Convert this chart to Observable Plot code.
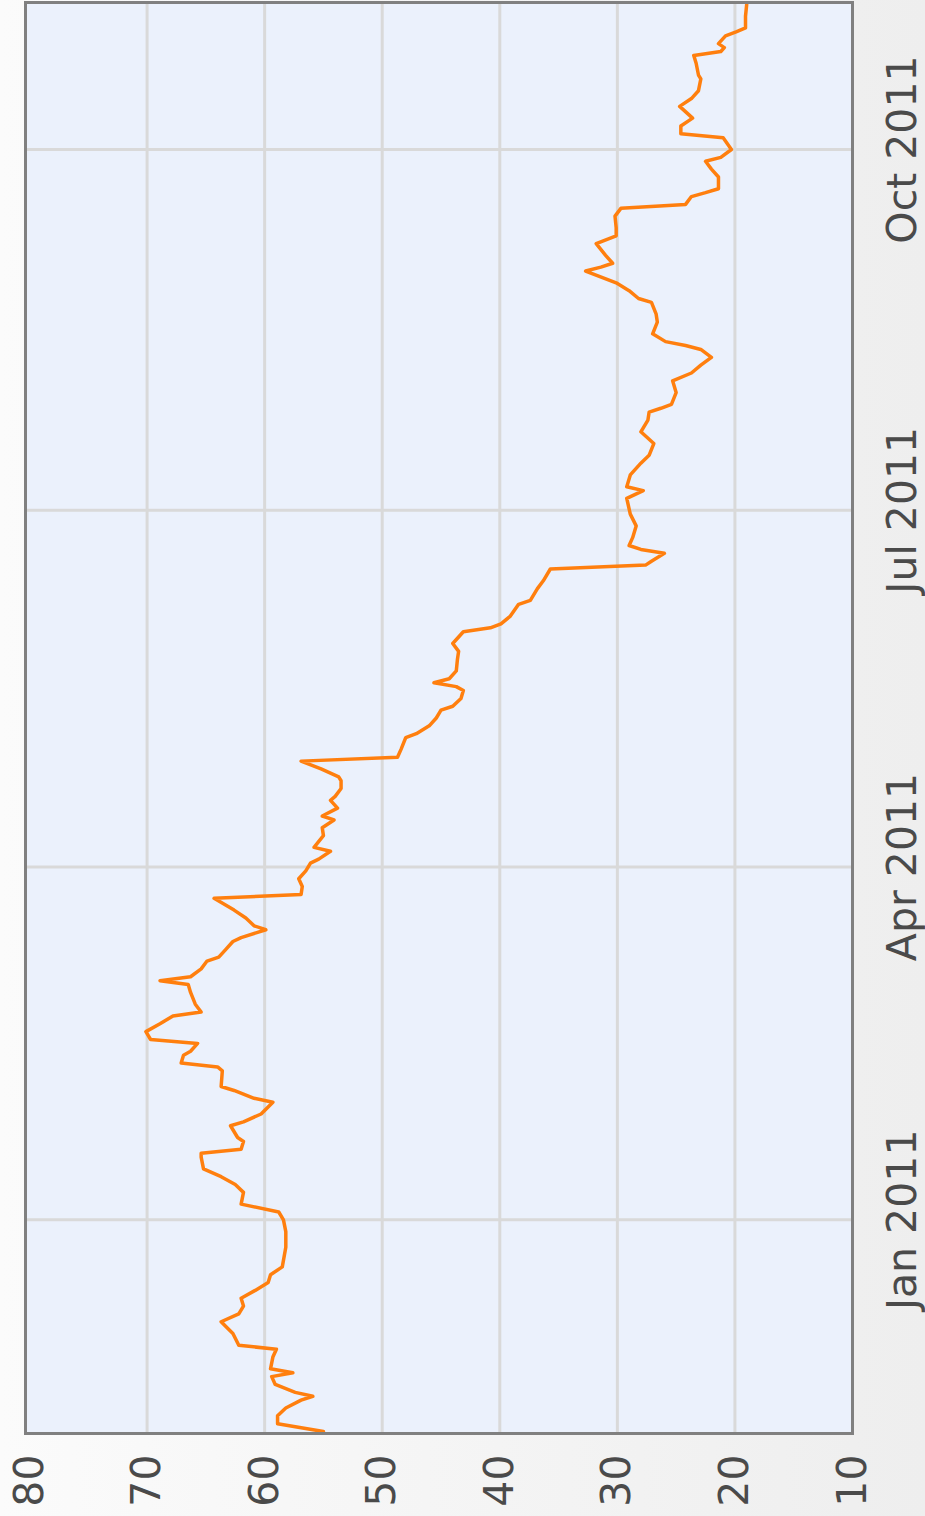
<!DOCTYPE html>
<html><head><meta charset="utf-8">
<script src="https://cdn.jsdelivr.net/npm/d3@7"></script>
<script src="https://cdn.jsdelivr.net/npm/@observablehq/plot@0.6"></script>
<style>
html,body{margin:0;padding:0;width:925px;height:1516px;overflow:hidden;background:linear-gradient(to right,#fbfbfb,#eeeeee);}
#chart{position:absolute;left:0;top:0;width:1516px;height:925px;transform-origin:0 0;transform:translate(0,1516px) rotate(-90deg);}
</style></head><body><div id="chart"></div>
<script>
const dates = [
"2010-11-08","2010-11-10","2010-11-12","2010-11-14","2010-11-16","2010-11-17","2010-11-18","2010-11-20","2010-11-22","2010-11-23",
"2010-11-24","2010-11-27","2010-11-29","2010-11-30","2010-12-03","2010-12-06","2010-12-08","2010-12-10","2010-12-12","2010-12-14",
"2010-12-16","2010-12-18","2010-12-20","2010-12-25","2010-12-29","2011-01-01","2011-01-03","2011-01-05","2011-01-08","2011-01-10",
"2011-01-12","2011-01-14","2011-01-17","2011-01-18","2011-01-19","2011-01-21","2011-01-22","2011-01-25","2011-01-26","2011-01-28",
"2011-01-31","2011-02-01","2011-02-03","2011-02-04","2011-02-08","2011-02-09","2011-02-10","2011-02-12","2011-02-13","2011-02-15",
"2011-02-16","2011-02-18","2011-02-20","2011-02-22","2011-02-23","2011-02-25","2011-02-28","2011-03-02","2011-03-03","2011-03-04",
"2011-03-06","2011-03-08","2011-03-09","2011-03-11","2011-03-13","2011-03-14","2011-03-16","2011-03-17","2011-03-19","2011-03-21",
"2011-03-24","2011-03-25","2011-03-27","2011-03-29","2011-03-31","2011-04-02","2011-04-03","2011-04-05","2011-04-06","2011-04-09",
"2011-04-11","2011-04-13","2011-04-14","2011-04-16","2011-04-18","2011-04-19","2011-04-21","2011-04-23","2011-04-24","2011-04-26",
"2011-04-28","2011-04-29","2011-05-01","2011-05-04","2011-05-05","2011-05-07","2011-05-09","2011-05-11","2011-05-12","2011-05-14",
"2011-05-16","2011-05-17","2011-05-18","2011-05-19","2011-05-21","2011-05-24","2011-05-26","2011-05-28","2011-05-31","2011-06-01",
"2011-06-02","2011-06-04","2011-06-07","2011-06-08","2011-06-11","2011-06-13","2011-06-16","2011-06-17","2011-06-18","2011-06-20",
"2011-06-21","2011-06-22","2011-06-24","2011-06-27","2011-06-30","2011-07-04","2011-07-06","2011-07-07","2011-07-10","2011-07-13",
"2011-07-15","2011-07-18","2011-07-21","2011-07-24","2011-07-26","2011-07-27","2011-07-28","2011-07-31","2011-08-03","2011-08-05",
"2011-08-07","2011-08-09","2011-08-11","2011-08-12","2011-08-13","2011-08-15","2011-08-18","2011-08-20","2011-08-23","2011-08-24",
"2011-08-26","2011-08-28","2011-08-31","2011-09-01","2011-09-02","2011-09-04","2011-09-07","2011-09-09","2011-09-11","2011-09-14",
"2011-09-16","2011-09-17","2011-09-19","2011-09-20","2011-09-21","2011-09-24","2011-09-26","2011-09-28","2011-09-29","2011-10-01",
"2011-10-04","2011-10-05","2011-10-07","2011-10-09","2011-10-12","2011-10-14","2011-10-16","2011-10-19","2011-10-20","2011-10-23",
"2011-10-25","2011-10-26","2011-10-27","2011-10-28","2011-10-30","2011-10-31","2011-11-01","2011-11-04","2011-11-07"
];
const values = [
55.0,58.9,58.9,58.2,56.9,55.9,57.4,59.1,59.4,57.6,
59.5,59.3,59.0,62.2,62.7,63.7,62.2,61.8,62.0,60.8,
59.7,59.5,58.5,58.2,58.2,58.4,58.8,62.0,61.8,62.5,
63.7,65.2,65.4,65.4,62.0,61.8,62.3,62.9,61.8,60.3,
59.3,60.9,62.6,63.7,63.6,64.0,67.1,66.9,66.3,65.7,
69.7,70.1,68.9,67.8,65.4,65.9,66.3,66.5,68.9,66.3,
65.4,64.9,63.9,63.3,62.7,62.0,59.9,60.9,61.6,62.6,
64.3,56.9,56.8,57.1,56.5,56.1,55.4,54.4,55.8,55.0,
55.1,54.1,55.1,53.8,54.4,54.0,53.5,53.5,53.7,55.2,
56.9,48.7,48.4,48.0,47.1,46.0,45.4,45.0,44.0,43.3,
43.1,43.7,45.6,44.3,43.7,43.6,43.5,44.0,43.1,40.8,
39.9,39.1,38.4,37.4,36.8,36.3,35.7,27.6,27.1,26.0,
28.0,29.0,28.7,28.4,28.9,29.2,27.8,29.2,28.9,28.0,
27.3,26.9,28.0,27.4,27.3,26.3,25.4,25.0,25.3,23.7,
22.9,22.0,22.9,24.2,25.9,27.0,26.6,26.7,27.1,28.2,
29.0,30.1,32.7,31.4,30.4,31.0,31.8,30.1,30.1,30.2,
29.7,24.2,23.7,22.5,21.4,21.4,22.0,22.5,21.2,20.3,
21.0,24.6,24.6,23.6,24.7,23.7,23.1,22.9,23.1,23.3,
23.5,21.2,20.9,21.4,20.8,19.9,19.1,19.1,19.0
];
const valueTicks = [10, 20, 30, 40, 50, 60, 70, 80];
const dateTicks = ["2011-01-01", "2011-04-01", "2011-07-01", "2011-10-01"];
const dateDomain = ["2010-11-07T12:00:00Z", "2011-11-07T12:00:00Z"];

const data = dates.map((d, i) => ({date: new Date(d + "T00:00:00Z"), value: values[i]}));
const tickDates = dateTicks.map(d => new Date(d + "T00:00:00Z"));

const chart = Plot.plot({
  width: 1516,
  height: 925,
  marginLeft: 82,
  marginRight: 3,
  marginTop: 25,
  marginBottom: 73,
  style: {background: "transparent", fontFamily: "'DejaVu Sans', Verdana, sans-serif", fontSize: "41px", color: "#4a4a4a", overflow: "visible"},
  x: {type: "utc", domain: dateDomain.map(d => new Date(d)), ticks: tickDates, tickFormat: d3.utcFormat("%b %Y"), tickSize: 0, tickPadding: 34, label: null},
  y: {domain: [10, 80], range: [852, 29], ticks: valueTicks, tickSize: 0, tickPadding: 21, label: null},
  marks: [
    Plot.frame({fill: "#ebf1fc"}),
    Plot.ruleX(tickDates, {stroke: "#d9d9d9", strokeWidth: 3}),
    Plot.ruleY(valueTicks.filter(v => v > 10 && v < 80), {stroke: "#d9d9d9", strokeWidth: 3}),
    Plot.line(data, {x: "date", y: "value", stroke: "#ff7f0e", strokeWidth: 3.5, strokeLinejoin: "round", clip: true}),
    Plot.frame({stroke: "#808080", strokeWidth: 3})
  ]
});
document.getElementById("chart").appendChild(chart);
</script>
</body></html>
